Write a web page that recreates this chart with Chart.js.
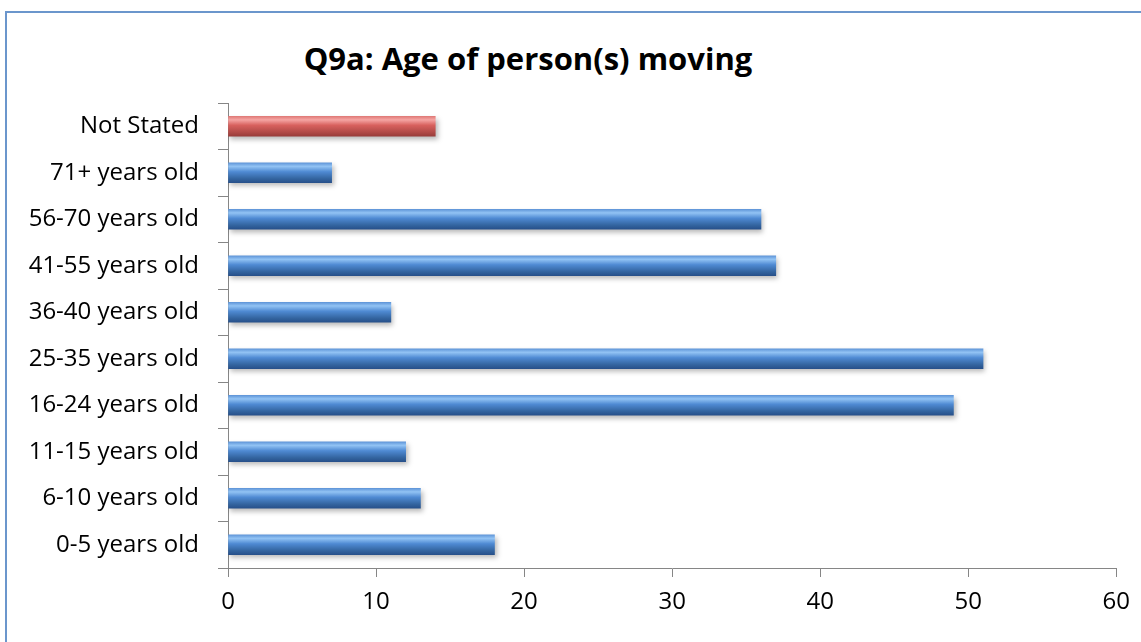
<!DOCTYPE html>
<html>
<head>
<meta charset="utf-8">
<script src="https://cdn.jsdelivr.net/npm/chart.js@4/dist/chart.umd.min.js"></script>
<style>
    html, body { margin: 0; padding: 0; background: #fff; overflow: hidden; }
    #wrap { position: relative; width: 1141px; height: 642px; }
    #frame { position: absolute; left: 5px; top: 11px; width: 1300px; height: 800px; border: 2px solid #6b96cc; box-sizing: border-box; }
    #title { position: absolute; left: 0; width: 1056px; top: 36px; text-align: center; line-height: 44px;
             font-family: "Open Sans", Lato, sans-serif; font-weight: bold; font-size: 31px; color: #000; }
    #chartCanvas { position: absolute; left: 0; top: 0; }
</style>
</head>
<body>
<div id="wrap">
    <div id="frame"></div>
    <div id="title">Q9a: Age of person(s) moving</div>
    <canvas id="chartCanvas" width="1141" height="642"></canvas>
</div>
<script>
    // top to bottom, as shown on the chart
    const categories = [
        "Not Stated", "71+ years old", "56-70 years old", "41-55 years old", "36-40 years old",
        "25-35 years old", "16-24 years old", "11-15 years old", "6-10 years old", "0-5 years old"
    ];
    const counts = [14, 7, 36, 37, 11, 51, 49, 12, 13, 18];
    const xTicks = [0, 10, 20, 30, 40, 50, 60];

    const BAR_H = 20;
    const blueStops = [[0, "#5f95d8"], [0.18, "#92c3f4"], [0.45, "#4f8ad3"], [0.8, "#33649f"], [1, "#27508a"]];
    const redStops = [[0, "#e07a77"], [0.18, "#f5a5a3"], [0.45, "#d8615e"], [0.8, "#b14a47"], [1, "#983c3a"]];

    function barFill(ctx) {
        const chart = ctx.chart;
        const yScale = chart.scales.y;
        const stops = categories[ctx.dataIndex] === "Not Stated" ? redStops : blueStops;
        if (!yScale || yScale.top === undefined) return stops[2][1];
        const cy = yScale.getPixelForValue(ctx.dataIndex);
        const g = chart.ctx.createLinearGradient(0, cy - BAR_H / 2, 0, cy + BAR_H / 2);
        stops.forEach(s => g.addColorStop(s[0], s[1]));
        return g;
    }

    const barShadow = {
        id: "barShadow",
        beforeDatasetsDraw(chart) {
            const c = chart.ctx;
            c.save();
            c.shadowColor = "rgba(0,0,0,0.28)";
            c.shadowBlur = 5;
            c.shadowOffsetX = 2;
            c.shadowOffsetY = 3;
        },
        afterDatasetsDraw(chart) {
            chart.ctx.restore();
        }
    };

    const axisColor = "#868686";
    const font = { family: "'Open Sans', Lato, sans-serif", size: 24 };

    new Chart(document.getElementById("chartCanvas"), {
        type: "bar",
        data: {
            labels: categories,
            datasets: [{
                data: counts,
                backgroundColor: barFill,
                borderWidth: 0,
                barThickness: BAR_H
            }]
        },
        options: {
            indexAxis: "y",
            responsive: false,
            animation: false,
            layout: { padding: { left: 0, right: 20, top: 103, bottom: 0 } },
            plugins: {
                legend: { display: false },
                tooltip: { enabled: false }
            },
            scales: {
                x: {
                    min: 0,
                    max: 60,
                    afterBuildTicks(scale) { scale.ticks = xTicks.map(v => ({ value: v })); },
                    afterFit(scale) { scale.height = 74; },
                    border: { display: true, color: axisColor, width: 1 },
                    grid: { display: true, drawOnChartArea: false, drawTicks: true, tickLength: 9, color: axisColor },
                    ticks: { color: "#000", font: font, padding: 11 }
                },
                y: {
                    afterFit(scale) { scale.width = 228; },
                    border: { display: true, color: axisColor, width: 1 },
                    grid: { display: true, offset: true, drawOnChartArea: false, drawTicks: true, tickLength: 10, color: axisColor },
                    ticks: { color: "#000", font: font, padding: 19, autoSkip: false }
                }
            }
        },
        plugins: [barShadow]
    });
</script>
</body>
</html>
